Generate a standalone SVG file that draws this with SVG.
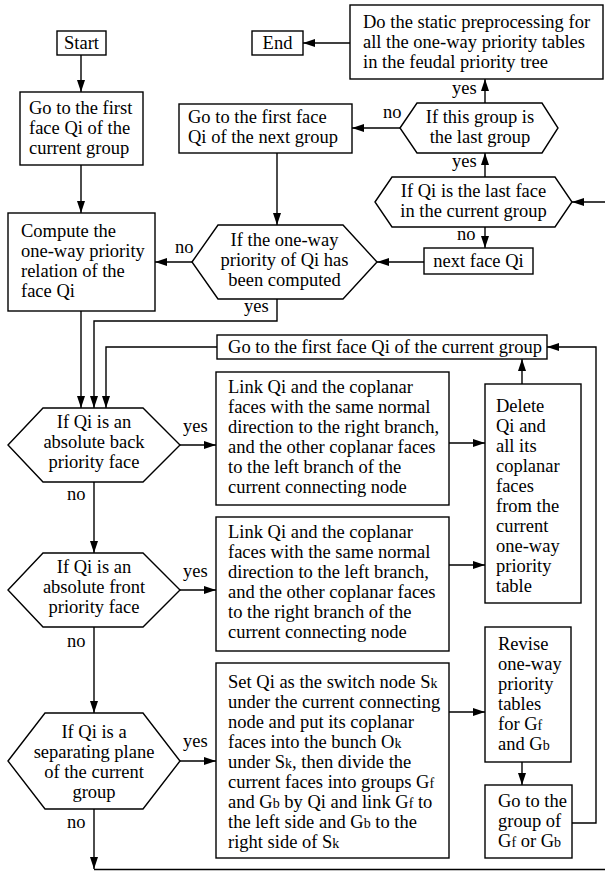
<svg xmlns="http://www.w3.org/2000/svg" width="605" height="871" viewBox="0 0 605 871">
<defs>
<marker id="ah" viewBox="0 0 12 8" refX="12" refY="4" markerWidth="12" markerHeight="8" markerUnits="userSpaceOnUse" orient="auto"><path d="M0,0 L12,4 L0,8 z" fill="#000"/></marker>
<style>
.n rect,.n polygon{fill:#fff;stroke:#000;stroke-width:1.4}
text{font-family:"Liberation Serif","Times New Roman",serif;font-size:18.5px;fill:#000}
.c{text-anchor:middle}
.s{font-size:14px}
#connectors path{fill:none;stroke:#000;stroke-width:1.4}
.a{marker-end:url(#ah)}
</style>
</defs>
<rect width="605" height="871" fill="#fff"/>
<g id="connectors">
<path class="a" d="M81,55 V92"/>
<path class="a" d="M81,165 V213"/>
<path class="a" d="M192,262 H155"/>
<path class="a" d="M277,153 V225"/>
<path class="a" d="M400,128 H352"/>
<path class="a" d="M485,103 V79"/>
<path class="a" d="M350,43 H303"/>
<path class="a" d="M485,177 V153"/>
<path class="a" d="M605,202 H572"/>
<path class="a" d="M485,227 V248"/>
<path class="a" d="M424,262 H377"/>
<path class="a" d="M81,311 V408"/>
<path class="a" d="M277,299 V321 H94 V408"/>
<path class="a" d="M217,347 H106 V408"/>
<path class="a" d="M180,445 H216"/>
<path class="a" d="M94,482 V553"/>
<path class="a" d="M180,590 H216"/>
<path class="a" d="M94,627 V713"/>
<path class="a" d="M180,761 H216"/>
<path class="a" d="M94,809 V869"/>
<path d="M94,869.5 H605"/>
<path class="a" d="M449,443 H485"/>
<path class="a" d="M449,565 H485"/>
<path class="a" d="M522,384 V359"/>
<path class="a" d="M449,712 H485"/>
<path class="a" d="M522,762 V785"/>
<path class="a" d="M572,823 H596 V347 H547"/>
<text x="452" y="94">yes</text>
<text x="383" y="118">no</text>
<text x="452" y="167">yes</text>
<text x="457" y="240">no</text>
<text x="175" y="253">no</text>
<text x="244" y="312">yes</text>
<text x="183" y="432">yes</text>
<text x="67" y="500">no</text>
<text x="183" y="577">yes</text>
<text x="67" y="647">no</text>
<text x="183" y="747">yes</text>
<text x="67" y="828">no</text>
</g>
<g id="start" class="n"><rect x="57" y="31" width="49" height="24"/><text class="c" x="81.5" y="49">Start</text></g>
<g id="end" class="n"><rect x="252" y="31" width="51" height="24"/><text class="c" x="277.5" y="49">End</text></g>
<g id="static" class="n"><rect x="350" y="5" width="253" height="74"/>
<text x="363" y="28">Do the static preprocessing for</text>
<text x="363" y="48">all the one-way priority tables</text>
<text x="363" y="68">in the feudal priority tree</text></g>
<g id="firstface" class="n"><rect x="20" y="92" width="123" height="73"/>
<text x="29" y="114">Go to the first</text>
<text x="29" y="134">face Qi of the</text>
<text x="29" y="154">current group</text></g>
<g id="nextgroup" class="n"><rect x="179" y="104" width="173" height="49"/>
<text x="188" y="123">Go to the first face</text>
<text x="188" y="143">Qi of the next group</text></g>
<g id="lastgroup" class="n"><polygon points="400,128 417,103 542,103 558,128 542,153 417,153"/>
<text class="c" x="480" y="123">If this group is</text>
<text class="c" x="480" y="143">the last group</text></g>
<g id="lastface" class="n"><polygon points="375,202 392,177 555,177 572,202 555,227 392,227"/>
<text class="c" x="473.5" y="197">If Qi is the last face</text>
<text class="c" x="473.5" y="217">in the current group</text></g>
<g id="nextface" class="n"><rect x="424" y="248" width="109" height="26"/>
<text class="c" x="478.5" y="267">next face Qi</text></g>
<g id="computed" class="n"><polygon points="192,262 218,225 343,225 377,262 343,299 218,299"/>
<text class="c" x="284.5" y="246">If the one-way</text>
<text class="c" x="284.5" y="266">priority of Qi has</text>
<text class="c" x="284.5" y="286">been computed</text></g>
<g id="compute" class="n"><rect x="8" y="213" width="147" height="98"/>
<text x="21" y="237">Compute the</text>
<text x="21" y="257">one-way priority</text>
<text x="21" y="277">relation of the</text>
<text x="21" y="297">face Qi</text></g>
<g id="firstcurrent" class="n"><rect x="217" y="335" width="330" height="24"/>
<text class="c" x="385" y="353">Go to the first face Qi of the current group</text></g>
<g id="back" class="n"><polygon points="8,445 43,408 143,408 180,445 143,482 43,482"/>
<text class="c" x="94" y="428">If Qi is an</text>
<text class="c" x="94" y="448">absolute back</text>
<text class="c" x="94" y="468">priority face</text></g>
<g id="front" class="n"><polygon points="8,590 43,553 143,553 180,590 143,627 43,627"/>
<text class="c" x="94" y="573">If Qi is an</text>
<text class="c" x="94" y="593">absolute front</text>
<text class="c" x="94" y="613">priority face</text></g>
<g id="separating" class="n"><polygon points="8,761 45,713 143,713 180,761 143,809 45,809"/>
<text class="c" x="94" y="738">If Qi is a</text>
<text class="c" x="94" y="758">separating plane</text>
<text class="c" x="94" y="778">of the current</text>
<text class="c" x="94" y="798">group</text></g>
<g id="link1" class="n"><rect x="216" y="372" width="233" height="133"/>
<text x="228" y="393">Link Qi and the coplanar</text>
<text x="228" y="413">faces with the same normal</text>
<text x="228" y="433">direction to the right branch,</text>
<text x="228" y="453">and the other coplanar faces</text>
<text x="228" y="473">to the left branch of the</text>
<text x="228" y="493">current connecting node</text></g>
<g id="link2" class="n"><rect x="216" y="517" width="233" height="134"/>
<text x="228" y="538">Link Qi and the coplanar</text>
<text x="228" y="558">faces with the same normal</text>
<text x="228" y="578">direction to the left branch,</text>
<text x="228" y="598">and the other coplanar faces</text>
<text x="228" y="618">to the right branch of the</text>
<text x="228" y="638">current connecting node</text></g>
<g id="delete" class="n"><rect x="485" y="384" width="96" height="219"/>
<text x="496" y="412">Delete</text>
<text x="496" y="432">Qi and</text>
<text x="496" y="452">all its</text>
<text x="496" y="472">coplanar</text>
<text x="496" y="492">faces</text>
<text x="496" y="512">from the</text>
<text x="496" y="532">current</text>
<text x="496" y="552">one-way</text>
<text x="496" y="572">priority</text>
<text x="496" y="592">table</text></g>
<g id="switch" class="n"><rect x="216" y="663" width="233" height="195"/>
<text x="228" y="688">Set Qi as the switch node S<tspan class="s">k</tspan></text>
<text x="228" y="708">under the current connecting</text>
<text x="228" y="728">node and put its coplanar</text>
<text x="228" y="748">faces into the bunch O<tspan class="s">k</tspan></text>
<text x="228" y="768">under S<tspan class="s">k</tspan>, then divide the</text>
<text x="228" y="788">current faces into groups G<tspan class="s">f</tspan></text>
<text x="228" y="808">and G<tspan class="s">b</tspan> by Qi and link G<tspan class="s">f</tspan> to</text>
<text x="228" y="828">the left side and G<tspan class="s">b</tspan> to the</text>
<text x="228" y="848">right side of S<tspan class="s">k</tspan></text></g>
<g id="revise" class="n"><rect x="485" y="627" width="86" height="135"/>
<text x="498" y="650">Revise</text>
<text x="498" y="670">one-way</text>
<text x="498" y="690">priority</text>
<text x="498" y="710">tables</text>
<text x="498" y="730">for G<tspan class="s">f</tspan></text>
<text x="498" y="750">and G<tspan class="s">b</tspan></text></g>
<g id="gogroup" class="n"><rect x="485" y="785" width="87" height="73"/>
<text x="498" y="807">Go to the</text>
<text x="498" y="827">group of</text>
<text x="498" y="847">G<tspan class="s">f</tspan> or G<tspan class="s">b</tspan></text></g>
</svg>
